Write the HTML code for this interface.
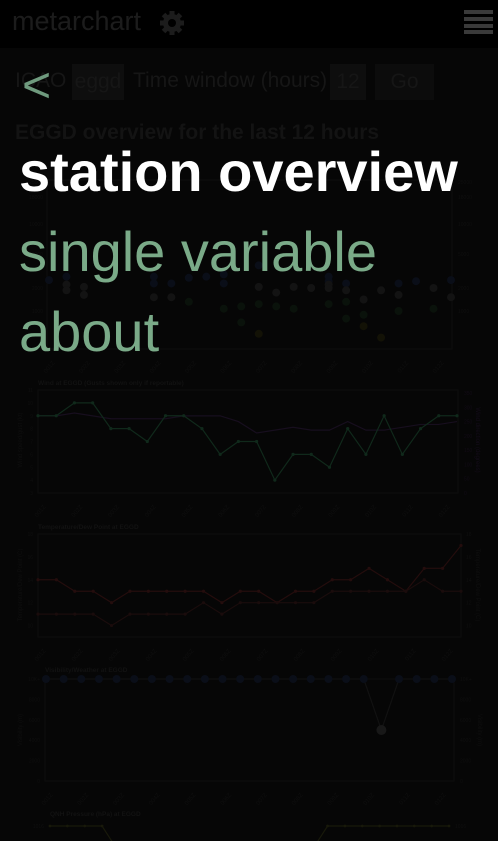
<!DOCTYPE html>
<html><head><meta charset="utf-8">
<style>
html,body{margin:0;padding:0;width:498px;height:841px;overflow:hidden;background:#060606;font-family:"Liberation Sans",sans-serif}
#hdr{position:absolute;left:0;top:0;width:498px;height:48px;background:#000}
.abs{position:absolute;white-space:nowrap}
svg text{font-family:"Liberation Sans",sans-serif}
</style></head><body>
<div id="hdr"></div>
<div class="abs" style="left:12px;top:6px;font-size:27px;color:#1c1c1c">metarchart</div>
<svg class="abs" style="left:157px;top:8px" width="30" height="30" viewBox="0 0 30 30"><g fill="#1c1c1c"><circle cx="15" cy="15" r="9"/><rect x="12.5" y="3" width="5" height="24"/><rect x="3" y="12.5" width="24" height="5"/><rect x="12.5" y="3" width="5" height="24" transform="rotate(45 15 15)"/><rect x="12.5" y="3" width="5" height="24" transform="rotate(-45 15 15)"/></g><circle cx="15" cy="15" r="4" fill="#000"/></svg>
<svg class="abs" style="left:464px;top:10px" width="29" height="24"><rect y="0" width="29" height="4" fill="#3a3a3a"/><rect y="7" width="29" height="4" fill="#3a3a3a"/><rect y="14" width="29" height="4" fill="#3a3a3a"/><rect y="20" width="29" height="4" fill="#3a3a3a"/></svg>
<div class="abs" style="left:15px;top:69px;font-size:21px;color:#161616">ICAO</div>
<div class="abs" style="left:72px;top:64px;width:52px;height:36px;background:#0e0e0e;color:#161616;font-size:21px;line-height:36px;text-align:center">eggd</div>
<div class="abs" style="left:133px;top:69px;font-size:21px;color:#161616">Time window (hours)</div>
<div class="abs" style="left:330px;top:64px;width:36px;height:36px;background:#0e0e0e;color:#161616;font-size:21px;line-height:36px;text-align:center">12</div>
<div class="abs" style="left:375px;top:64px;width:59px;height:36px;background:#0c0c0c;color:#161616;font-size:21px;line-height:36px;text-align:center">Go</div>
<div class="abs" style="left:15px;top:121px;font-size:21px;font-weight:bold;color:#131313">EGGD overview for the last 12 hours</div>

<svg class="abs" id="charts" style="left:0;top:0" width="498" height="841"></svg>

<div class="abs" style="left:22px;top:56px;font-size:50px;color:#6f9a7e">&lt;</div>
<div class="abs" style="left:19px;top:139px;font-size:56px;font-weight:bold;color:#fff">station overview</div>
<div class="abs" style="left:19px;top:219px;font-size:56px;color:#7aaa88">single variable</div>
<div class="abs" style="left:19px;top:299px;font-size:56px;color:#7aaa88">about</div>

<script>
const windSpeed=[9,9,10,10,8,8,7,9,9,8,6,7,7,4,6,6,5,8,6,9,6,8,9,9];
const windDir=[270,270,280,270,260,260,260,260,270,270,270,250,210,220,230,220,220,250,220,220,230,240,240,250];
const tempVals=[14,14,13,13,12,13,13,13,13,13,12,13,13,12,13,13,14,14,15,14,13,15,15,17];
const dewVals=[11,11,11,11,10,11,11,11,11,12,11,12,12,12,12,12,13,13,13,13,13,14,13,13];
const visVals=[10000,10000,10000,10000,10000,10000,10000,10000,10000,10000,10000,10000,10000,10000,10000,10000,10000,10000,10000,5000,10000,10000,10000,10000];
const pressVals=[1016,1016,1016,1016,1014,1014,1014,1014,1014,1014,1014,1014,1014,1014,1014,1014,1016,1016,1016,1016,1016,1016,1016,1016];
const cloudFewIdx=[0,1,6,6,7,8,9,10,10,12,16,16,17,20,21,23];
const cloudFewH=[2700,3000,3000,2400,2400,2900,3000,3200,2400,4000,2600,3000,2400,2400,2600,2700];
const cloudGreyIdx=[1,1,2,2,6,7,12,13,14,15,16,16,17,18,19,20,22,23];
const cloudGreyH=[2300,1900,2100,1700,1600,1600,2100,1800,2100,2000,2300,2000,1900,1500,1900,1700,2000,1600];
const cloudGreenIdx=[8,10,11,11,12,13,14,16,17,17,18,20,22];
const cloudGreenH=[1400,1100,1200,700,1300,1200,1100,1300,1400,800,900,1000,1100];
const cloudYellowIdx=[12,18,19];
const cloudYellowH=[400,600,300];
const cloudTicks=[0,1000,2000,5000,10000,18000,25000];
const cloudTickY=[349,311,288,254,224,197,182];
const timeLabels=["01Z","02Z","03Z","04Z","05Z","06Z","07Z","08Z","09Z","10Z","11Z","12Z"];

const svg=document.getElementById('charts');
const NS='http://www.w3.org/2000/svg';
function el(t,a,p){const e=document.createElementNS(NS,t);for(const k in a)e.setAttribute(k,a[k]);(p||svg).appendChild(e);return e;}
function lin(d0,d1,r0,r1){return v=>r0+(v-d0)/(d1-d0)*(r1-r0);}
function txt(x,y,s,c,size,name,extra){const t=el('text',Object.assign({x:x,y:y,fill:c,'font-size':size},extra||{}));t.textContent=s;


return t;}
function axes(x0,x1,y0,y1,name){
 const g=el('rect',{x:x0,y:y0,width:x1-x0,height:y1-y0,fill:'none',stroke:'#0d0d0d'});
 
 
 for(let i=0;i<12;i++){const x=x0+8+i*(x1-x0-16)/11;
  txt(x,y1+14,'0'+timeLabels[i],'#0f0f0f',6,name+'-x-tick',{transform:'rotate(-50 '+x+' '+(y1+14)+')','text-anchor':'end'});}
}
function series(vals,xs,ys,color,r,name,line){
 if(line){let d='';vals.forEach((v,i)=>{d+=(i?'L':'M')+xs(i)+' '+ys(v);});
  const p=el('path',{d:d,fill:'none',stroke:color,'stroke-width':1.2});
  
  }
 if(r>0)vals.forEach((v,i)=>{const c=el('circle',{cx:xs(i),cy:ys(v),r:r,fill:color});
  
  });
}
// cloud chart
axes(47,452,180,349,'cloud-chart');
function cloudY(h){for(let i=1;i<cloudTicks.length;i++){if(h<=cloudTicks[i])return lin(cloudTicks[i-1],cloudTicks[i],cloudTickY[i-1],cloudTickY[i])(h);}return 180;}
const cx=lin(0,23,49,451);
cloudTicks.slice(1).forEach((t,i)=>{txt(43,cloudTickY[i+1]+2,t,'#0f0f0f',5,'cloud-y-tick',{'text-anchor':'end'});txt(458,cloudTickY[i+1]+2,t,'#0f0f0f',5,'cloud-y2-tick');});
function scatter(ix,hs,col,name){ix.forEach((i,k)=>{const c=el('circle',{cx:cx(i),cy:cloudY(hs[k]),r:4,fill:col});
 
 });}
scatter(cloudFewIdx,cloudFewH,'#0a0e18','cloud-few-point');
scatter(cloudGreyIdx,cloudGreyH,'#131313','cloud-broken-point');
scatter(cloudGreenIdx,cloudGreenH,'#0a120b','cloud-cb-point');
scatter(cloudYellowIdx,cloudYellowH,'#131206','cloud-yellow-point');

// wind chart
txt(38,385,'Wind at EGGD (Gusts shown only if reportable)','#121212',6.5,'wind-chart-title',{'font-weight':'bold'});
axes(38,458,390,493,'wind-chart');
const wx=lin(0,23,38,457), wy=lin(3,11,493,390), dy=lin(0,350,493,393);
for(let v=3;v<=11;v++)txt(33,wy(v)+2,v,'#0f0f0f',5,'wind-y-tick',{'text-anchor':'end'});
for(let v=0;v<=350;v+=50)txt(464,dy(v)+2,v,'#120b16',5,'wind-y2-tick');
txt(22,440,'Wind speed/gust (kt)','#0f0f0f',6,'wind-y-title',{transform:'rotate(-90 22 440)','text-anchor':'middle'});
txt(476,440,'Wind direction (degrees)','#140c1a',6,'wind-y2-title',{transform:'rotate(90 476 440)','text-anchor':'middle'});
series(windDir,wx,dy,'#170e1e',0,'wind-direction',true);
series(windSpeed,wx,wy,'#10291b',1.6,'wind-speed',true);

// temp chart
txt(38,529,'Temperature/Dew Point at EGGD','#121212',6.5,'temp-chart-title',{'font-weight':'bold'});
axes(38,461,534,637,'temp-chart');
const tx=lin(0,23,38,461), ty=lin(9,18,637,534);
for(let v=10;v<=18;v+=2){txt(33,ty(v)+2,v,'#0f0f0f',5,'temp-y-tick',{'text-anchor':'end'});txt(466,ty(v)+2,v,'#0f0f0f',5,'temp-y2-tick');}
txt(22,585,'Temperature/Dew Point (C)','#0f0f0f',6,'temp-y-title',{transform:'rotate(-90 22 585)','text-anchor':'middle'});
txt(476,585,'Temperature/Dew Point (C)','#0f0f0f',6,'temp-y2-title',{transform:'rotate(90 476 585)','text-anchor':'middle'});
series(tempVals,tx,ty,'#240d0d',1.6,'temperature',true);
series(dewVals,tx,ty,'#1a0c0c',1.6,'dew-point',true);

// visibility chart
txt(45,672,'Visibility/Weather at EGGD','#121212',6.5,'vis-chart-title',{'font-weight':'bold'});
axes(45,454,679,781,'vis-chart');
const vx=lin(0,23,46,452), vy=lin(0,10000,781,679);
for(let v=0;v<=10000;v+=2000){const s=v==10000?'10K+':v;txt(40,vy(v)+2,s,'#0f0f0f',5,'vis-y-tick',{'text-anchor':'end'});txt(460,vy(v)+2,s,'#0f0f0f',5,'vis-y2-tick');}
txt(22,730,'Visibility (m)','#0f0f0f',6,'vis-y-title',{transform:'rotate(-90 22 730)','text-anchor':'middle'});
txt(478,730,'Visibility (m)','#0f0f0f',6,'vis-y2-title',{transform:'rotate(90 478 730)','text-anchor':'middle'});
series(visVals,vx,vy,'#111',0,'visibility',true);
visVals.forEach((v,i)=>{const c=el('circle',{cx:vx(i),cy:vy(v),r:v<10000?5:4,fill:v<10000?'#181818':'#0a0e18'});
 
 });

// pressure chart
txt(50,816,'QNH Pressure (hPa) at EGGD','#121212',6.5,'pressure-chart-title',{'font-weight':'bold'});
const px=lin(0,23,50,449), py=lin(1012,1016,880,826);
txt(44,828,'1016','#0f0f0f',5,'pressure-y-tick',{'text-anchor':'end'});
txt(455,828,'1016','#0f0f0f',5,'pressure-y2-tick');
series(pressVals,px,py,'#18190a',1.4,'pressure',true);
</script>
</body></html>
